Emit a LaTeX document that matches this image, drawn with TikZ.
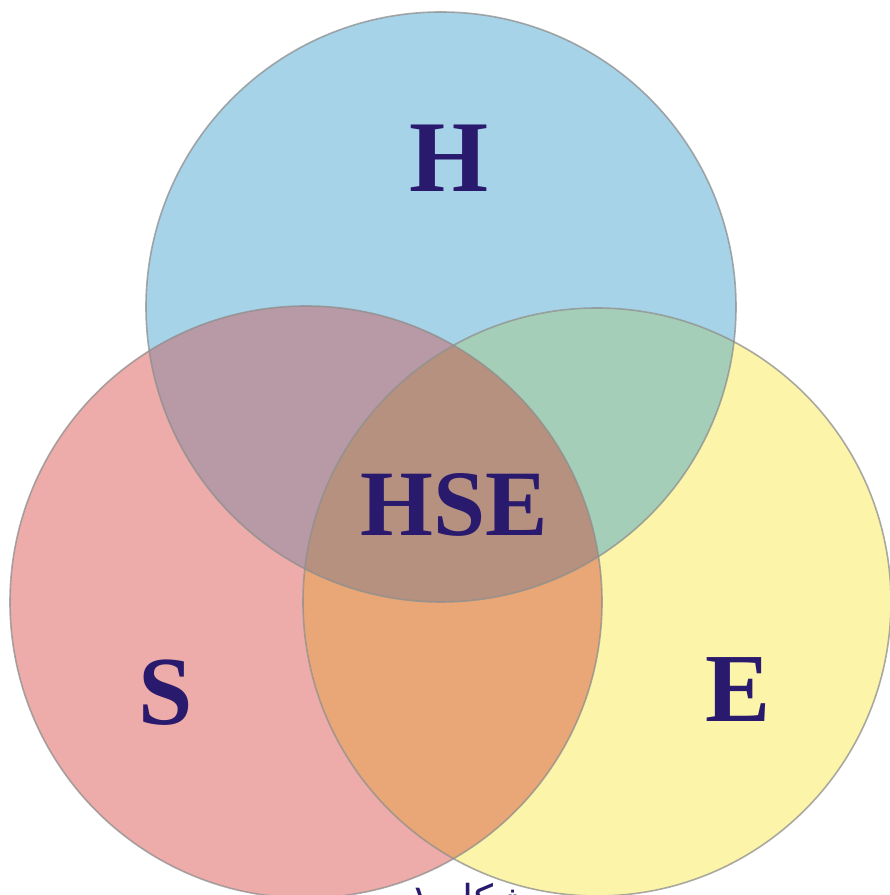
\documentclass[tikz,border=0pt]{standalone}
\usepackage{fontspec}
\setmainfont{Liberation Serif}
\newfontfamily\arabicfont[Script=Arabic]{DejaVu Sans}
\TeXXeTstate=1
\definecolor{colH}{HTML}{A7D3E9}
\definecolor{colS}{HTML}{EDACA9}
\definecolor{colE}{HTML}{FBF4A9}
\definecolor{colHS}{HTML}{B79AA5}
\definecolor{colHE}{HTML}{A5CEB8}
\definecolor{colSE}{HTML}{E9A676}
\definecolor{colHSE}{HTML}{B6917F}
\definecolor{txtcol}{HTML}{2A1A6E}
\definecolor{rimcol}{HTML}{8E8E8E}
\begin{document}
\begin{tikzpicture}[line join=bevel,
  letter/.style={text=txtcol,inner sep=0pt,font=\bfseries\fontsize{#1}{#1}\selectfont},
  rim/.style={draw=rimcol,draw opacity=0.75,line width=1.6bp}]
\useasboundingbox (0bp,0bp) rectangle (890bp,895bp);
\clip (0bp,0bp) rectangle (890bp,895bp);
%%
  \coordinate (cH) at (441bp,588bp);
  \coordinate (cS) at (306bp,293bp);
  \coordinate (cE) at (597bp,293bp);
%% base discs
  \fill [colH] (cH) circle (295bp);
  \fill [colS] (cS) circle (296bp);
  \fill [colE] (cE) circle (294bp);
%% overlaps
\begin{scope}
  \clip (cS) circle (296bp);
  \fill [colHS] (cH) circle (295bp);
  \fill [colSE] (cE) circle (294bp);
\end{scope}
\begin{scope}
  \clip (cE) circle (294bp);
  \fill [colHE] (cH) circle (295bp);
\end{scope}
\begin{scope}
  \clip (cS) circle (296bp);
  \clip (cE) circle (294bp);
  \fill [colHSE] (cH) circle (295bp);
\end{scope}
%% rims
  \draw [rim] (cH) circle (295bp);
  \draw [rim] (cS) circle (296bp);
  \draw [rim] (cE) circle (294bp);
%% labels
  \node (H) at (449bp,737bp) [letter=102] {H};
  \node (HSE) at (454bp,390bp) [letter=94] {HSE};
  \node (S) at (166bp,202bp) [letter=98] {S};
  \node (E) at (738bp,205bp) [letter=98] {E};
  \node (fig) at (470bp,-18bp) [anchor=base,text=txtcol,inner sep=0pt] {\arabicfont\fontsize{40}{40}\selectfont\beginR شکل ۱\endR};
%
\end{tikzpicture}
\end{document}
